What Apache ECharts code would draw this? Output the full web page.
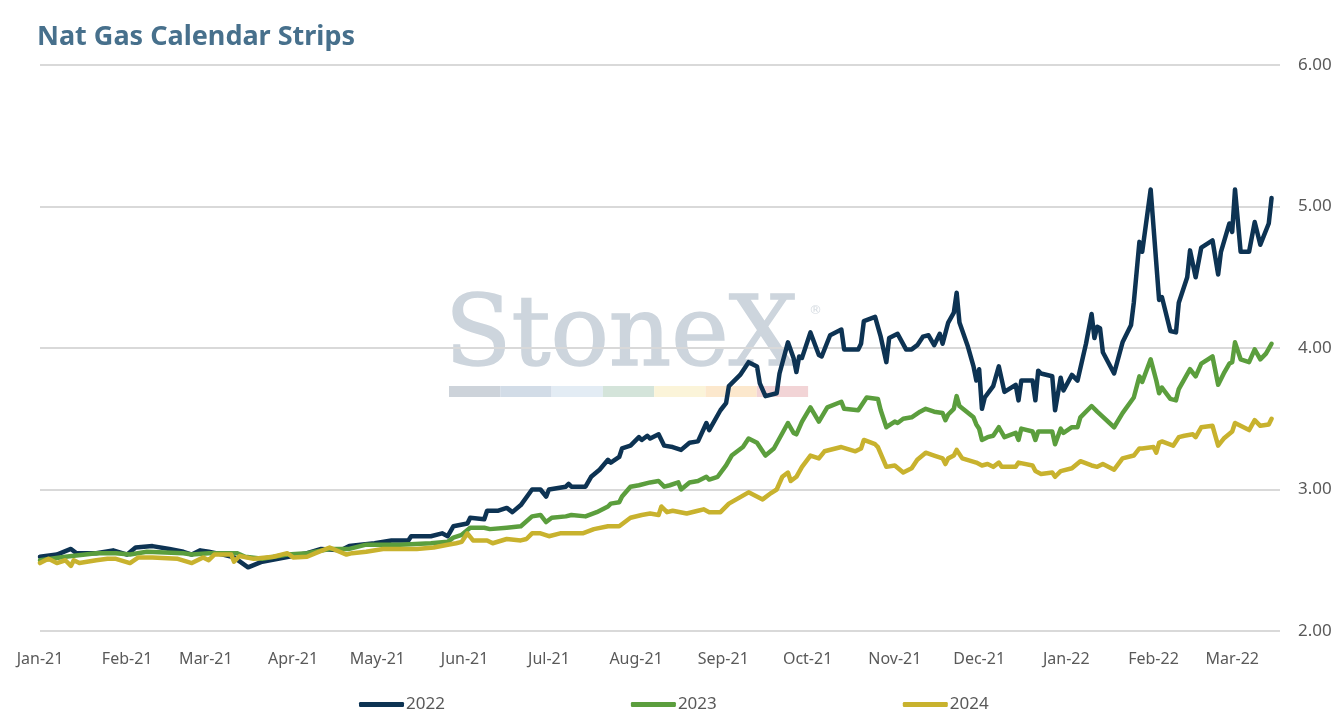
<!DOCTYPE html>
<html>
<head>
    <meta charset="utf-8">
    <title>Nat Gas Calendar Strips</title>
    <script src="https://cdn.jsdelivr.net/npm/echarts@6/dist/echarts.min.js"></script>
    <style>
        html, body { margin: 0; padding: 0; background: #fff; }
        #chart1 { width: 1344px; height: 722px; }
    </style>
</head>
<body>
<div id="chart1"></div>
<script type="text/javascript">
    // 曲线数据
    var seriesNames = ['2022', '2023', '2024'];
    var seriesColors = ['#0d3353', '#5b9e3d', '#c8b22e'];
    var yTicks = [2, 3, 4, 5, 6];

    var strip2022 = [
        ['2021-01-01',2.525],['2021-01-07',2.54],['2021-01-12',2.58],['2021-01-14',2.55],['2021-01-21',2.55],
        ['2021-01-27',2.57],['2021-02-01',2.54],['2021-02-04',2.59],['2021-02-10',2.60],['2021-02-16',2.58],
        ['2021-02-21',2.56],['2021-02-24',2.54],['2021-02-27',2.57],['2021-03-02',2.56],['2021-03-07',2.54],
        ['2021-03-11',2.52],['2021-03-16',2.45],['2021-03-21',2.49],['2021-03-29',2.52],['2021-04-06',2.55],
        ['2021-04-11',2.58],['2021-04-18',2.57],['2021-04-21',2.60],['2021-04-25',2.61],['2021-04-30',2.62],
        ['2021-05-06',2.64],['2021-05-12',2.64],['2021-05-13',2.67],['2021-05-20',2.67],['2021-05-24',2.69],
        ['2021-05-26',2.67],['2021-05-28',2.74],['2021-06-02',2.76],['2021-06-03',2.80],['2021-06-08',2.79],
        ['2021-06-09',2.85],['2021-06-13',2.85],['2021-06-16',2.87],['2021-06-18',2.84],['2021-06-21',2.89],
        ['2021-06-25',3.00],['2021-06-28',3.00],['2021-06-30',2.95],['2021-07-01',3.00],['2021-07-07',3.02],
        ['2021-07-08',3.04],['2021-07-09',3.02],['2021-07-14',3.02],['2021-07-16',3.09],['2021-07-19',3.14],
        ['2021-07-22',3.21],['2021-07-23',3.19],['2021-07-26',3.23],['2021-07-27',3.29],['2021-07-30',3.31],
        ['2021-08-02',3.37],['2021-08-03',3.35],['2021-08-05',3.38],['2021-08-06',3.36],['2021-08-09',3.39],
        ['2021-08-11',3.31],['2021-08-14',3.30],['2021-08-17',3.28],['2021-08-20',3.33],['2021-08-23',3.34],
        ['2021-08-26',3.47],['2021-08-27',3.42],['2021-08-31',3.56],['2021-09-02',3.61],['2021-09-03',3.73],
        ['2021-09-07',3.81],['2021-09-10',3.90],['2021-09-13',3.87],['2021-09-14',3.75],['2021-09-16',3.66],
        ['2021-09-20',3.68],['2021-09-21',3.82],['2021-09-24',4.04],['2021-09-26',3.93],['2021-09-27',3.83],
        ['2021-09-28',3.94],['2021-09-29',3.93],['2021-10-02',4.11],['2021-10-05',3.95],['2021-10-06',3.94],
        ['2021-10-09',4.09],['2021-10-13',4.13],['2021-10-14',3.99],['2021-10-19',3.99],['2021-10-20',4.03],
        ['2021-10-21',4.19],['2021-10-25',4.22],['2021-10-27',4.08],['2021-10-29',3.90],['2021-10-30',4.07],
        ['2021-11-02',4.10],['2021-11-05',3.99],['2021-11-07',3.99],['2021-11-09',4.02],['2021-11-11',4.08],
        ['2021-11-13',4.09],['2021-11-15',4.02],['2021-11-17',4.10],['2021-11-18',4.03],['2021-11-20',4.18],
        ['2021-11-22',4.25],['2021-11-23',4.39],['2021-11-24',4.18],['2021-11-27',4.01],['2021-11-29',3.87],
        ['2021-11-30',3.77],['2021-12-01',3.85],['2021-12-02',3.57],['2021-12-03',3.65],['2021-12-06',3.73],
        ['2021-12-08',3.87],['2021-12-10',3.69],['2021-12-14',3.74],['2021-12-15',3.63],['2021-12-16',3.77],
        ['2021-12-20',3.77],['2021-12-21',3.63],['2021-12-22',3.84],['2021-12-23',3.82],['2021-12-27',3.80],
        ['2021-12-28',3.56],['2021-12-30',3.79],['2021-12-31',3.70],['2022-01-03',3.81],['2022-01-05',3.77],
        ['2022-01-08',4.03],['2022-01-10',4.24],['2022-01-11',4.07],['2022-01-12',4.15],['2022-01-13',4.14],
        ['2022-01-14',3.97],['2022-01-18',3.82],['2022-01-21',4.04],['2022-01-24',4.16],['2022-01-25',4.32],
        ['2022-01-27',4.75],['2022-01-28',4.68],['2022-01-31',5.12],['2022-02-03',4.34],['2022-02-04',4.36],
        ['2022-02-07',4.12],['2022-02-09',4.11],['2022-02-10',4.32],['2022-02-13',4.50],['2022-02-14',4.69],
        ['2022-02-16',4.50],['2022-02-18',4.71],['2022-02-22',4.76],['2022-02-24',4.52],['2022-02-25',4.68],
        ['2022-02-28',4.88],['2022-03-01',4.82],['2022-03-02',5.12],['2022-03-04',4.68],['2022-03-07',4.68],
        ['2022-03-09',4.89],['2022-03-11',4.73],['2022-03-14',4.88],['2022-03-15',5.06]
    ];

    var strip2023 = [
        ['2021-01-01',2.50],['2021-01-10',2.525],['2021-01-21',2.55],['2021-01-28',2.55],['2021-02-02',2.54],
        ['2021-02-08',2.56],['2021-02-21',2.55],['2021-02-24',2.54],['2021-03-02',2.55],['2021-03-12',2.55],
        ['2021-03-15',2.525],['2021-03-21',2.51],['2021-03-30',2.54],['2021-04-06',2.55],['2021-04-14',2.58],
        ['2021-04-21',2.58],['2021-04-27',2.61],['2021-05-09',2.61],['2021-05-20',2.62],['2021-05-26',2.63],
        ['2021-05-28',2.66],['2021-05-31',2.68],['2021-06-03',2.73],['2021-06-08',2.73],['2021-06-10',2.72],
        ['2021-06-16',2.73],['2021-06-21',2.74],['2021-06-25',2.81],['2021-06-28',2.82],['2021-06-30',2.77],
        ['2021-07-02',2.80],['2021-07-07',2.81],['2021-07-09',2.82],['2021-07-14',2.81],['2021-07-18',2.84],
        ['2021-07-22',2.88],['2021-07-23',2.90],['2021-07-26',2.91],['2021-07-27',2.95],['2021-07-30',3.02],
        ['2021-08-02',3.03],['2021-08-06',3.05],['2021-08-09',3.06],['2021-08-11',3.02],['2021-08-13',3.03],
        ['2021-08-16',3.05],['2021-08-17',3.00],['2021-08-20',3.05],['2021-08-23',3.06],['2021-08-26',3.09],
        ['2021-08-27',3.07],['2021-08-30',3.09],['2021-09-02',3.17],['2021-09-04',3.24],['2021-09-08',3.30],
        ['2021-09-10',3.36],['2021-09-13',3.33],['2021-09-16',3.24],['2021-09-19',3.29],['2021-09-24',3.47],
        ['2021-09-26',3.40],['2021-09-27',3.39],['2021-09-29',3.48],['2021-10-02',3.58],['2021-10-05',3.48],
        ['2021-10-08',3.58],['2021-10-13',3.62],['2021-10-14',3.57],['2021-10-19',3.56],['2021-10-20',3.59],
        ['2021-10-22',3.65],['2021-10-26',3.64],['2021-10-27',3.56],['2021-10-29',3.44],['2021-11-01',3.48],
        ['2021-11-02',3.47],['2021-11-04',3.50],['2021-11-07',3.51],['2021-11-10',3.55],['2021-11-12',3.57],
        ['2021-11-15',3.55],['2021-11-18',3.54],['2021-11-19',3.49],['2021-11-20',3.53],['2021-11-22',3.57],
        ['2021-11-23',3.66],['2021-11-24',3.59],['2021-11-29',3.51],['2021-11-30',3.46],['2021-12-01',3.43],
        ['2021-12-02',3.35],['2021-12-04',3.37],['2021-12-06',3.38],['2021-12-08',3.44],['2021-12-10',3.37],
        ['2021-12-14',3.40],['2021-12-15',3.35],['2021-12-16',3.43],['2021-12-20',3.41],['2021-12-21',3.35],
        ['2021-12-22',3.41],['2021-12-27',3.41],['2021-12-28',3.32],['2021-12-30',3.43],['2021-12-31',3.40],
        ['2022-01-03',3.44],['2022-01-05',3.44],['2022-01-06',3.51],['2022-01-10',3.59],['2022-01-12',3.55],
        ['2022-01-18',3.44],['2022-01-21',3.54],['2022-01-25',3.65],['2022-01-27',3.80],['2022-01-28',3.76],
        ['2022-01-31',3.92],['2022-02-02',3.77],['2022-02-03',3.68],['2022-02-04',3.72],['2022-02-07',3.64],
        ['2022-02-09',3.63],['2022-02-10',3.71],['2022-02-14',3.85],['2022-02-16',3.80],['2022-02-18',3.89],
        ['2022-02-22',3.94],['2022-02-24',3.74],['2022-02-26',3.82],['2022-02-28',3.89],['2022-03-01',3.90],
        ['2022-03-02',4.04],['2022-03-04',3.92],['2022-03-07',3.90],['2022-03-09',3.99],['2022-03-11',3.92],
        ['2022-03-13',3.96],['2022-03-15',4.03]
    ];

    var strip2024 = [
        ['2021-01-01',2.48],['2021-01-04',2.51],['2021-01-07',2.48],['2021-01-10',2.50],['2021-01-12',2.46],
        ['2021-01-13',2.50],['2021-01-15',2.48],['2021-01-21',2.50],['2021-01-25',2.51],['2021-01-28',2.51],
        ['2021-02-02',2.48],['2021-02-05',2.52],['2021-02-10',2.52],['2021-02-19',2.51],['2021-02-24',2.48],
        ['2021-02-28',2.52],['2021-03-02',2.50],['2021-03-04',2.54],['2021-03-10',2.54],['2021-03-11',2.49],
        ['2021-03-13',2.53],['2021-03-18',2.51],['2021-03-25',2.525],['2021-03-30',2.55],['2021-04-01',2.52],
        ['2021-04-06',2.525],['2021-04-09',2.55],['2021-04-14',2.59],['2021-04-20',2.54],['2021-04-22',2.55],
        ['2021-04-27',2.56],['2021-05-03',2.58],['2021-05-15',2.58],['2021-05-21',2.59],['2021-05-26',2.61],
        ['2021-05-29',2.62],['2021-05-31',2.63],['2021-06-02',2.69],['2021-06-04',2.64],['2021-06-09',2.64],
        ['2021-06-11',2.62],['2021-06-16',2.65],['2021-06-21',2.64],['2021-06-23',2.65],['2021-06-25',2.69],
        ['2021-06-28',2.69],['2021-07-01',2.67],['2021-07-05',2.69],['2021-07-09',2.69],['2021-07-13',2.69],
        ['2021-07-17',2.72],['2021-07-22',2.74],['2021-07-26',2.74],['2021-07-30',2.80],['2021-08-03',2.82],
        ['2021-08-06',2.83],['2021-08-09',2.82],['2021-08-10',2.88],['2021-08-12',2.84],['2021-08-14',2.85],
        ['2021-08-19',2.83],['2021-08-23',2.85],['2021-08-25',2.86],['2021-08-27',2.84],['2021-08-31',2.84],
        ['2021-09-03',2.90],['2021-09-10',2.98],['2021-09-15',2.93],['2021-09-18',2.975],['2021-09-20',3.00],
        ['2021-09-22',3.09],['2021-09-24',3.12],['2021-09-25',3.06],['2021-09-27',3.09],['2021-09-29',3.16],
        ['2021-10-02',3.24],['2021-10-05',3.22],['2021-10-07',3.27],['2021-10-13',3.30],['2021-10-18',3.27],
        ['2021-10-20',3.29],['2021-10-21',3.35],['2021-10-25',3.32],['2021-10-26',3.30],['2021-10-29',3.16],
        ['2021-11-01',3.17],['2021-11-04',3.12],['2021-11-07',3.15],['2021-11-09',3.21],['2021-11-12',3.26],
        ['2021-11-15',3.24],['2021-11-18',3.22],['2021-11-19',3.18],['2021-11-20',3.22],['2021-11-22',3.24],
        ['2021-11-23',3.28],['2021-11-25',3.22],['2021-11-30',3.19],['2021-12-02',3.17],['2021-12-04',3.18],
        ['2021-12-06',3.16],['2021-12-08',3.19],['2021-12-09',3.16],['2021-12-14',3.16],['2021-12-15',3.19],
        ['2021-12-20',3.17],['2021-12-21',3.13],['2021-12-23',3.11],['2021-12-27',3.12],['2021-12-28',3.09],
        ['2021-12-30',3.13],['2022-01-03',3.15],['2022-01-06',3.20],['2022-01-10',3.17],['2022-01-12',3.16],
        ['2022-01-14',3.18],['2022-01-18',3.14],['2022-01-21',3.22],['2022-01-25',3.24],['2022-01-27',3.29],
        ['2022-01-28',3.29],['2022-02-01',3.30],['2022-02-02',3.26],['2022-02-03',3.33],['2022-02-04',3.34],
        ['2022-02-08',3.31],['2022-02-10',3.37],['2022-02-12',3.38],['2022-02-15',3.39],['2022-02-16',3.37],
        ['2022-02-18',3.44],['2022-02-22',3.45],['2022-02-24',3.31],['2022-02-26',3.36],['2022-03-01',3.41],
        ['2022-03-02',3.47],['2022-03-07',3.42],['2022-03-09',3.49],['2022-03-11',3.45],['2022-03-14',3.46],
        ['2022-03-15',3.50]
    ];

    var allStrips = [strip2022, strip2023, strip2024];

    // 水印色条
    var bandColors = ['#cdd3da', '#d2dce7', '#e3ecf4', '#d4e4da', '#fbf4d9', '#fce8cd', '#f2d4d6'];

    var myChart1 = echarts.init(document.getElementById('chart1'));

    var DAY = 86400000;
    var font = "'Noto Sans', 'DejaVu Sans', sans-serif";

    var watermark = [
        {
            type: 'text', z: -10, x: 445, y: 340,
            style: {
                text: 'StoneX', fill: '#cdd5dd',
                font: "97px 'DejaVu Serif', 'Liberation Serif', serif",
                stroke: '#cdd5dd', lineWidth: 1.5,
                verticalAlign: 'middle', align: 'left'
            }
        },
        {
            type: 'text', z: -10, x: 809, y: 311,
            style: { text: '®', fill: '#d5dbe1', font: "13px 'DejaVu Sans'", verticalAlign: 'middle' }
        }
    ];
    bandColors.forEach(function (c, i) {
        watermark.push({
            type: 'rect', z: -10,
            shape: { x: 449 + i * 51.3, y: 386, width: 51.3, height: 11 },
            style: { fill: c }
        });
    });

    var option = {
        animation: false,
        backgroundColor: '#ffffff',
        title: {
            text: 'Nat Gas Calendar Strips',
            left: 32,
            top: 19,
            textStyle: { fontFamily: font, fontWeight: 'bold', fontSize: 27, color: '#47708c' }
        },
        grid: { left: 40, right: 64, top: 65, bottom: 91, containLabel: false },
        legend: {
            data: seriesNames,
            left: 354,
            top: 691,
            icon: 'roundRect',
            itemWidth: 45,
            itemHeight: 5,
            itemGap: 186,
            textStyle: { fontFamily: font, fontSize: 17, color: '#595959', padding: [0, 0, 0, -3] }
        },
        graphic: { elements: watermark },
        xAxis: {
            type: 'time',
            min: '2021-01-01',
            max: '2022-03-18',
            splitNumber: 15,
            minInterval: 28 * DAY,
            maxInterval: 31 * DAY,
            axisLine: { show: false },
            axisTick: { show: false },
            splitLine: { show: false },
            axisLabel: {
                formatter: '{MMM}-{yy}',
                fontFamily: font,
                fontSize: 16,
                color: '#595959',
                margin: 20,
                hideOverlap: false,
                showMaxLabel: false
            }
        },
        yAxis: {
            type: 'value',
            position: 'right',
            min: yTicks[0],
            max: yTicks[yTicks.length - 1],
            interval: 1,
            axisLine: { show: false },
            axisTick: { show: false },
            splitLine: { lineStyle: { color: '#d9d9d9', width: 2 } },
            axisLabel: {
                formatter: function (v) { return v.toFixed(2); },
                fontFamily: font,
                fontSize: 17,
                color: '#595959',
                margin: 18
            }
        },
        series: seriesNames.map(function (name, i) {
            return {
                name: name,
                type: 'line',
                data: allStrips[i],
                symbol: 'none',
                z: 3 + i,
                itemStyle: { color: seriesColors[i] },
                lineStyle: { color: seriesColors[i], width: 4.5, cap: 'round', join: 'round' }
            };
        })
    };

    myChart1.setOption(option);
</script>
</body>
</html>
